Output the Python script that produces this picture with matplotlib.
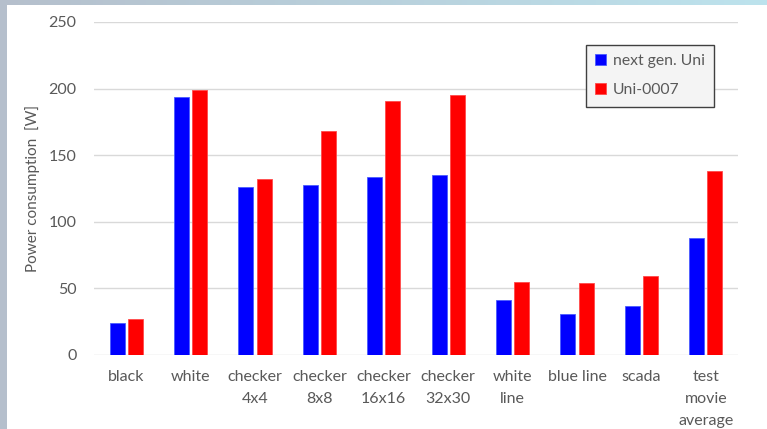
import matplotlib.pyplot as plt
import matplotlib.patches as mpatches
import numpy as np

plt.rcParams['font.family'] = ['Lato', 'DejaVu Sans']

# data
categories = ["black", "white", "checker\n4x4", "checker\n8x8", "checker\n16x16",
              "checker\n32x30", "white\nline", "blue line", "scada", "test\nmovie\naverage"]
next_gen = [24, 194, 126, 128, 134, 135, 41, 31, 37, 88]
uni_0007 = [27, 199, 132, 168, 191, 195, 55, 54, 59, 138]
series_names = ["next gen. Uni", "Uni-0007"]
yticks = [0, 50, 100, 150, 200, 250]

TEXT = "#595959"
W, H = 767, 429

fig = plt.figure(figsize=(W / 100, H / 100), dpi=100)

# slide background: grey-blue on the left fading to light cyan at top right
bg = fig.add_axes([0, 0, 1, 1], zorder=-20)
grad = np.linspace(0, 1, 256)
c0 = np.array([0.71, 0.75, 0.80])
c1 = np.array([0.74, 0.89, 0.93])
img = c0[None, :] * (1 - grad[:, None]) + c1[None, :] * grad[:, None]
bg.imshow(img[None, :, :], aspect="auto", extent=[0, 1, 0, 1])
bg.set_axis_off()
bg.add_patch(mpatches.Rectangle((7 / W, 0), 1, 1 - 5 / H, facecolor="white",
                                edgecolor="none", transform=bg.transAxes))

ax = fig.add_axes([94 / W, 1 - 355 / H, 644 / W, 333 / H])
ax.set_facecolor("none")

x = np.arange(len(categories))
w = 0.233
off = 0.14
ax.bar(x - off, next_gen, w, color="#0000ff", edgecolor="#4a5cff", linewidth=0.6,
       label=series_names[0], zorder=3)
ax.bar(x + off, uni_0007, w, color="#ff0000", edgecolor="#ff4a4a", linewidth=0.6,
       label=series_names[1], zorder=3)

ax.set_xlim(-0.5, len(categories) - 0.5)
ax.set_ylim(0, 250)
ax.set_yticks(yticks)
ax.set_xticks(x)
ax.set_xticklabels([])
# category labels drawn as texts so the multi-line spacing can be set
for xi, lab in zip(x, categories):
    ax.text(xi, -0.045, lab, transform=ax.get_xaxis_transform(), ha="center",
            va="top", fontsize=11.5, color=TEXT, linespacing=1.75)
ax.tick_params(axis="y", labelsize=11.5, colors=TEXT, length=0, pad=12.5)
ax.tick_params(axis="x", length=0)
ax.grid(axis="y", color="#d9d9d9", linewidth=1, zorder=0)
for s in ax.spines.values():
    s.set_visible(False)

ax.set_ylabel("Power consumption  [W]", fontsize=11, color=TEXT, labelpad=6)

leg = ax.legend(loc="upper right", bbox_to_anchor=(714 / W, 1 - 45 / H),
                bbox_transform=fig.transFigure, fontsize=11.3, frameon=True,
                fancybox=False, handlelength=0.7, handleheight=0.7,
                handletextpad=0.4, labelspacing=0.95, borderpad=0.6,
                borderaxespad=0)
leg.get_frame().set_facecolor("#f4f4f4")
leg.get_frame().set_edgecolor("#404040")
leg.get_frame().set_alpha(1)
for t in leg.get_texts():
    t.set_color(TEXT)

fig.savefig("out.png", dpi=100)
